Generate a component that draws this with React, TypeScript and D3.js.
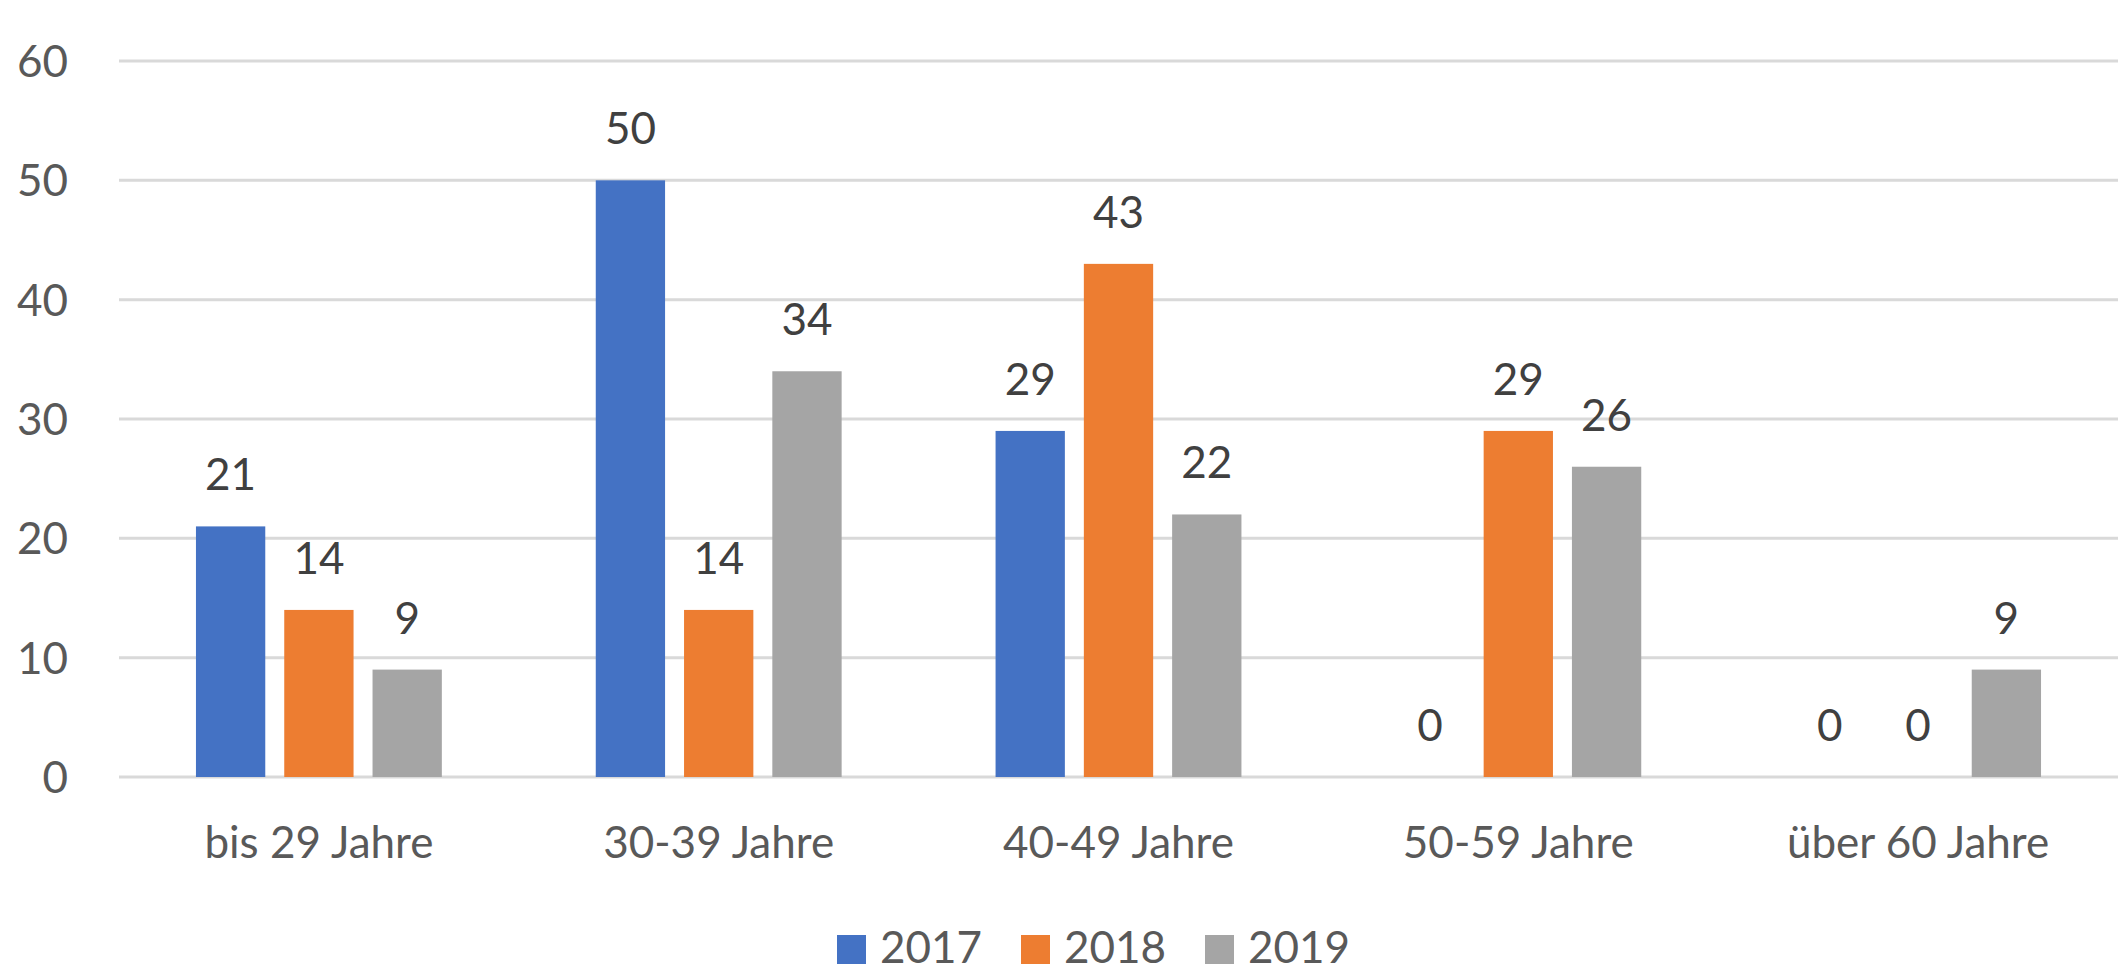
import React, { useEffect, useRef } from "react";
import * as d3 from "d3";

const categories = ["bis 29 Jahre", "30-39 Jahre", "40-49 Jahre", "50-59 Jahre", "über 60 Jahre"];
const seriesNames = ["2017", "2018", "2019"];
const values2017 = [21, 50, 29, 0, 0];
const values2018 = [14, 14, 43, 29, 0];
const values2019 = [9, 34, 22, 26, 9];
const yTicks = [0, 10, 20, 30, 40, 50, 60];
const colors = ["#4472C4", "#ED7D31", "#A5A5A5"];

const W = 2118, H = 973;
const FONT = "Lato, 'Open Sans', sans-serif";

export default function App() {
  const ref = useRef<SVGSVGElement | null>(null);

  useEffect(() => {
    document.body.style.margin = "0";
    const svg = d3.select(ref.current);
    svg.selectAll("*").remove();

    const left = 119, right = 2118, top = 61, bottom = 777;
    const series = [values2017, values2018, values2019];

    const x0 = d3.scaleBand<string>().domain(categories).range([left, right])
      .paddingInner(0.385).paddingOuter(0.1925);
    const x1 = d3.scaleBand<string>().domain(seriesNames).range([0, x0.bandwidth()])
      .paddingInner(0.215).paddingOuter(0);
    const y = d3.scaleLinear().domain([0, 60]).range([bottom, top]);

    // gridlines
    svg.append("g").selectAll("line").data(yTicks).enter().append("line")
      .attr("x1", left).attr("x2", right)
      .attr("y1", d => y(d)).attr("y2", d => y(d))
      .attr("stroke", "#d9d9d9").attr("stroke-width", 3);

    // y labels
    svg.append("g").selectAll("text").data(yTicks).enter().append("text")
      .attr("x", 68).attr("y", d => y(d) + 16)
      .attr("text-anchor", "end")
      .attr("font-family", FONT).attr("font-size", 44).attr("fill", "#595959")
      .text(d => d);

    // bars + value labels
    const flat = categories.flatMap((c, i) =>
      seriesNames.map((s, j) => ({ c, s, j, v: series[j][i] })));

    const g = svg.append("g");
    g.selectAll("rect").data(flat.filter(d => d.v > 0)).enter().append("rect")
      .attr("x", d => (x0(d.c) as number) + (x1(d.s) as number))
      .attr("y", d => y(d.v))
      .attr("width", x1.bandwidth())
      .attr("height", d => y(0) - y(d.v))
      .attr("fill", d => colors[d.j]);

    g.selectAll("text").data(flat).enter().append("text")
      .attr("x", d => (x0(d.c) as number) + (x1(d.s) as number) + x1.bandwidth() / 2)
      .attr("y", d => y(d.v) - 36)
      .attr("text-anchor", "middle")
      .attr("font-family", FONT).attr("font-size", 44).attr("fill", "#404040")
      .text(d => d.v);

    // category labels
    svg.append("g").selectAll("text").data(categories).enter().append("text")
      .attr("x", d => (x0(d) as number) + x0.bandwidth() / 2)
      .attr("y", 858)
      .attr("text-anchor", "middle")
      .attr("font-family", FONT).attr("font-size", 44).attr("fill", "#595959")
      .text(d => d);

    // legend (kept just inside the bottom edge)
    const step = 184, legendStart = 837;
    const lg = svg.append("g").selectAll("g").data(seriesNames).enter().append("g")
      .attr("transform", (d, i) => `translate(${legendStart + i * step}, 0)`);
    lg.append("rect").attr("x", 0).attr("y", 935).attr("width", 29).attr("height", 29)
      .attr("fill", (d, i) => colors[i]);
    lg.append("text").attr("x", 43).attr("y", 963)
      .attr("font-family", FONT).attr("font-size", 44).attr("fill", "#595959")
      .text(d => d);
  }, []);

  return (
    <svg ref={ref} width={W} height={H}
      style={{ position: "absolute", left: 0, top: 0, display: "block", background: "#fff" }} />
  );
}
